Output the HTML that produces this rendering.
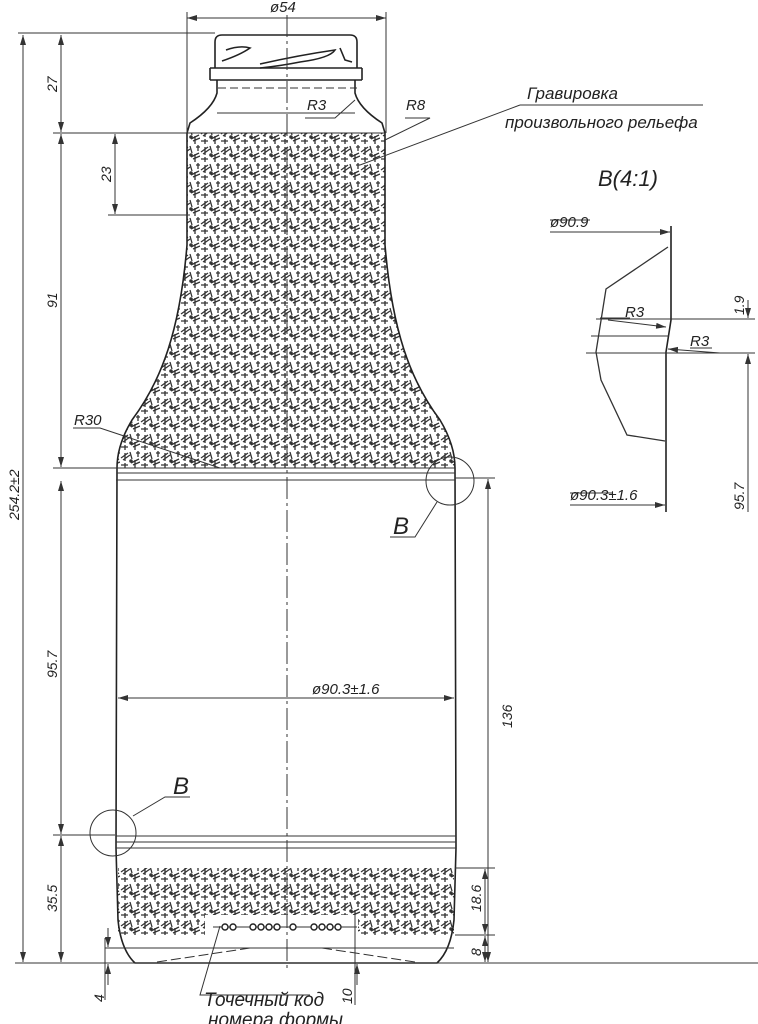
<!DOCTYPE html>
<html><head><meta charset="utf-8"><style>
html,body{margin:0;padding:0;background:#fff;}
svg{display:block;}
text{font-family:"Liberation Sans Narrow","Liberation Sans","DejaVu Sans",sans-serif;font-style:italic;fill:#222;}
</style></head><body>
<svg width="758" height="1024" viewBox="0 0 758 1024" xmlns="http://www.w3.org/2000/svg">
<defs>
<pattern id="k" width="20" height="18" patternUnits="userSpaceOnUse">
<rect width="20" height="18" fill="#fff"/>
<g stroke="#333" stroke-width="1.3" fill="none">
<path d="M1 8 L8 3 M3 10 L10 5 M5 3 L5 11 M10 2 L12 9 M11 13 L19 9 M13 15 L20 12 M15 10 L15 18 M1 15 L8 15 M5 13 L5 18 M16 3 L20 3 M18 1 L18 7"/>
</g>
<circle cx="11" cy="11" r="1.8" fill="#333"/>
</pattern>
<marker id="a" viewBox="0 0 10 6" refX="10" refY="3" markerWidth="10" markerHeight="6" orient="auto-start-reverse" markerUnits="userSpaceOnUse"><path d="M0 0 L10 3 L0 6z" fill="#333"/></marker>
</defs>
<g stroke="#333" fill="none" stroke-width="1">
<path d="M187 133 L385 133 L385 245 C392 330 410 380 440 420 C452 440 455 455 455 468 L117 468 C117 455 120 440 132 420 C162 380 180 330 187 245 Z" fill="url(#k)" stroke="none"/>
<rect x="118" y="868" width="336" height="67" fill="url(#k)" stroke="none"/>
<rect x="205" y="915" width="153" height="20" fill="#fff" stroke="none"/>
<g stroke-width="1.6" stroke="#222">
<path d="M215 68 L215 42 Q215 35 222 35 L350 35 Q357 35 357 42 L357 68"/>
<path d="M210 68 L362 68 M210 80 L362 80 M210 68 L210 80 M362 68 L362 80"/>
<path d="M217 80 L217 93 Q213 108 190 123 L187 133 M355 80 L355 93 Q359 108 382 123 L385 133"/>
<path d="M187 133 L187 245 C180 330 162 380 132 420 C120 440 117 455 117 468 L116 848 L118 920 Q121 950 135 963 L437 963 Q451 950 454 920 L456 848 L455 468 C455 455 452 440 440 420 C410 380 392 330 385 245 L385 133"/>
<path d="M226 50 Q240 45 250 48 Q240 55 222 61 M260 64 Q300 55 335 50 Q330 58 300 62 Q280 66 260 68 M340 48 L345 60 L352 62"/>
</g>
<path d="M217 113 L355 113 M187 133 L385 133 M117 468 L455 468 M117 473 L455 473 M116 480 L455 480 M116 836 L456 836 M116 842 L456 842 M116 848 L456 848 M105 948 L454 948"/>
<path d="M218 88 L357 88" stroke-dasharray="8 4"/>
<path d="M157 962 L250 948 M322 948 L415 962" stroke-dasharray="10 4"/>
<path d="M287 15 L287 970" stroke-dasharray="22 4 3 4"/>
<path d="M187 12 L187 133 M386 12 L386 133"/>
<path d="M18 33 L215 33 M53 133 L190 133 M108 215 L190 215 M53 468 L120 468 M53 835 L115 835 M15 963 L758 963 M455 478 L495 478 M455 868 L495 868 M455 935 L495 935 M105 938 L105 1000 M355 915 L355 1005"/>
<path d="M187 18 L386 18" marker-start="url(#a)" marker-end="url(#a)"/>
<path d="M23 35 L23 962" marker-start="url(#a)" marker-end="url(#a)"/>
<path d="M61 35 L61 132" marker-start="url(#a)" marker-end="url(#a)"/>
<path d="M61 134 L61 467" marker-start="url(#a)" marker-end="url(#a)"/>
<path d="M61 481 L61 834" marker-start="url(#a)" marker-end="url(#a)"/>
<path d="M61 836 L61 962" marker-start="url(#a)" marker-end="url(#a)"/>
<path d="M115 134 L115 214" marker-start="url(#a)" marker-end="url(#a)"/>
<path d="M488 479 L488 962" marker-start="url(#a)" marker-end="url(#a)"/>
<path d="M485 869 L485 934" marker-start="url(#a)" marker-end="url(#a)"/>
<path d="M485 936 L485 962" marker-start="url(#a)" marker-end="url(#a)"/>
<path d="M118 698 L454 698" marker-start="url(#a)" marker-end="url(#a)"/>
<path d="M108 928 L108 947" marker-end="url(#a)"/><path d="M108 985 L108 964" marker-end="url(#a)"/>
<path d="M357 985 L357 964" marker-end="url(#a)"/>
<path d="M305 118 L335 118 L355 100"/>
<path d="M405 118 L430 118 L385 140 M520 105 L703 105 M520 105 L360 165"/>
<path d="M73 428 L100 428 L220 468"/>
<path d="M220 926 L200 995 L310 995"/>
<circle cx="450" cy="481" r="24"/><circle cx="113" cy="833" r="23"/>
<path d="M437 502 L415 537 L390 537 M133 816 L165 797 L190 797"/>
<path d="M213 927 L357 927"/>
<g fill="#fff" stroke="#222" stroke-width="1.4">
<circle cx="225" cy="927" r="3"/><circle cx="233" cy="927" r="3"/>
<circle cx="253" cy="927" r="3"/><circle cx="261" cy="927" r="3"/><circle cx="269" cy="927" r="3"/><circle cx="277" cy="927" r="3"/><circle cx="293" cy="927" r="3"/>
<circle cx="314" cy="927" r="3"/><circle cx="322" cy="927" r="3"/><circle cx="330" cy="927" r="3"/><circle cx="338" cy="927" r="3"/>
</g>
<path d="M550 232 L670 232" marker-end="url(#a)"/>
<path d="M671 226 L671 320 L666 352 L666 512" stroke-width="1.6" stroke="#222"/>
<path d="M668 247 L606 289 L596 352 L601 380 L627 435 L665 441" stroke-width="1.3"/>
<path d="M596 319 L755 319 M591 336 L669 336 M586 353 L755 353"/>
<path d="M608 320 L666 327" marker-end="url(#a)"/>
<path d="M720 353 L668 349" marker-end="url(#a)"/>
<path d="M748 300 L748 318" marker-end="url(#a)"/><path d="M748 372 L748 354" marker-end="url(#a)"/>
<path d="M748 355 L748 512"/>
<path d="M570 505 L665 505" marker-end="url(#a)"/>
<path d="M550 220 L590 220 M570 493 L612 493 M600 318 L630 318 M690 348 L712 348"/>
</g>
<g font-size="15">
<text x="270" y="12">ø54</text>
<text x="307" y="110">R3</text>
<text x="406" y="110">R8</text>
<text x="74" y="425">R30</text>
<text x="527" y="99" font-size="17">Гравировка</text>
<text x="505" y="128" font-size="17">произвольного рельефа</text>
<text x="598" y="186" font-size="22">B(4:1)</text>
<text x="550" y="227">ø90.9</text>
<text x="570" y="500">ø90.3±1.6</text>
<text x="625" y="317">R3</text>
<text x="690" y="346">R3</text>
<text x="312" y="694">ø90.3±1.6</text>
<text x="393" y="534" font-size="24">B</text>
<text x="173" y="794" font-size="24">B</text>
<text x="204" y="1006" font-size="19">Точечный код</text>
<text x="208" y="1026" font-size="19">номера формы</text>
<g font-size="14">
<text transform="translate(19 520) rotate(-90)">254.2±2</text>
<text transform="translate(57 92) rotate(-90)">27</text>
<text transform="translate(57 308) rotate(-90)">91</text>
<text transform="translate(111 182) rotate(-90)">23</text>
<text transform="translate(57 678) rotate(-90)">95.7</text>
<text transform="translate(57 912) rotate(-90)">35.5</text>
<text transform="translate(512 728) rotate(-90)">136</text>
<text transform="translate(481 912) rotate(-90)">18.6</text>
<text transform="translate(481 956) rotate(-90)">8</text>
<text transform="translate(104 1002) rotate(-90)">4</text>
<text transform="translate(352 1004) rotate(-90)">10</text>
<text transform="translate(744 315) rotate(-90)">1.9</text>
<text transform="translate(744 510) rotate(-90)">95.7</text>
</g>
</g>
</svg>
</body></html>
